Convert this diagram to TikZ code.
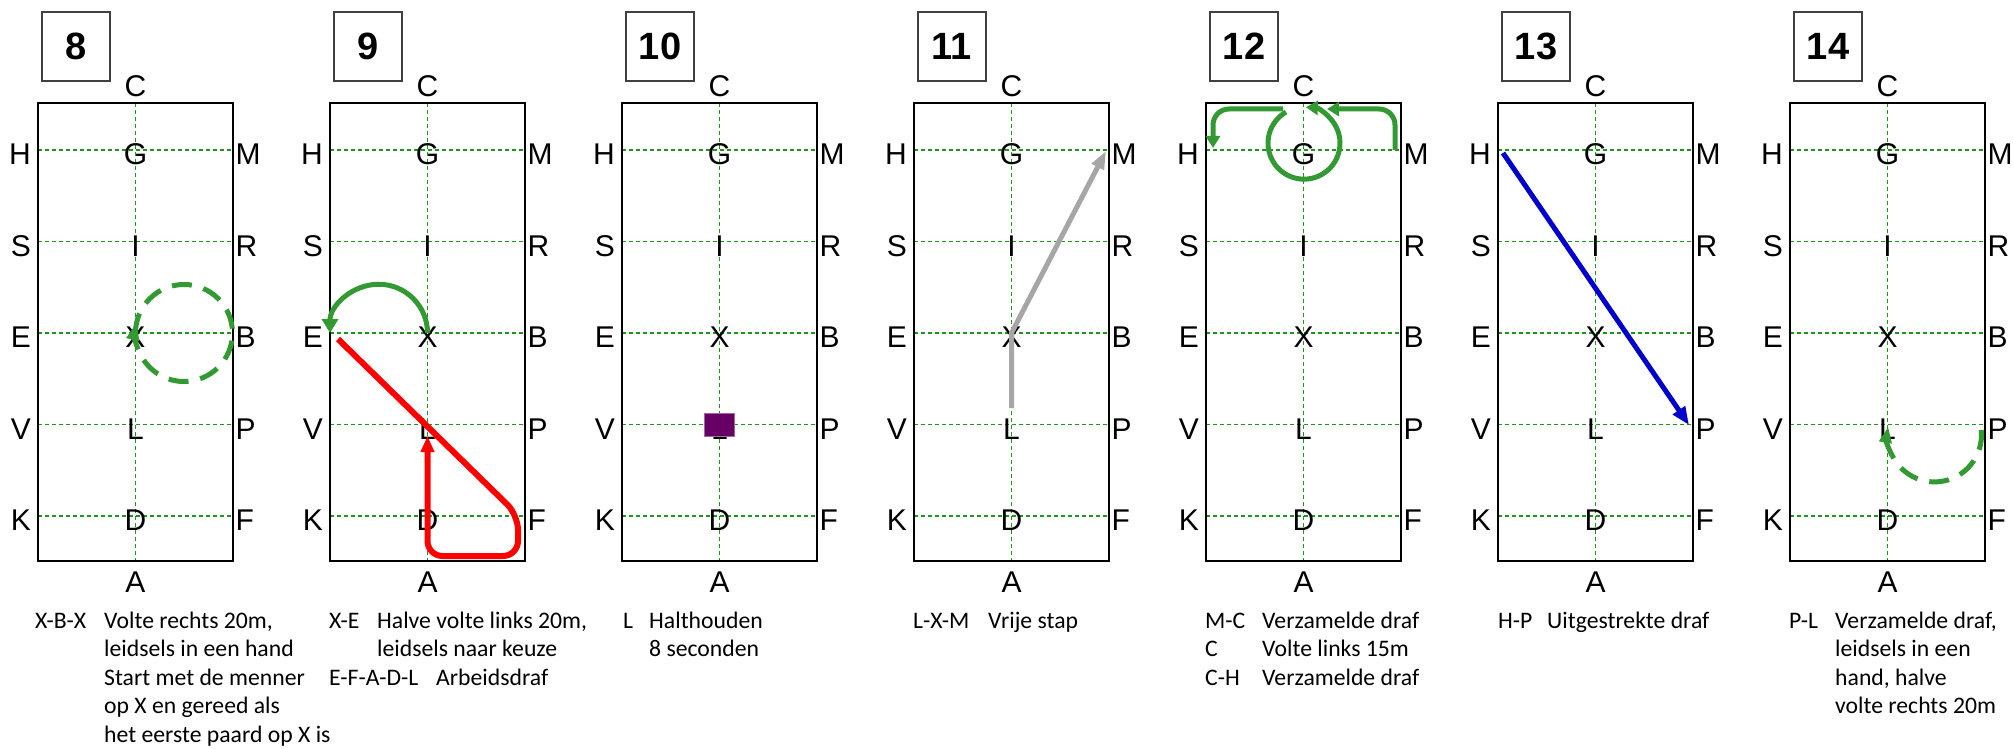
\documentclass[tikz,border=0pt]{standalone}
\usepackage{fontspec}
\setmainfont{Liberation Sans}
\newfontfamily\notefont{Carlito}
\usepackage[svgnames]{xcolor}
\usepackage{tikz}
\usetikzlibrary{arrows.meta}
\definecolor{gridgreen}{RGB}{30,150,30}
\definecolor{trackgreen}{RGB}{51,153,51}
\definecolor{haltpurple}{RGB}{102,0,102}
\definecolor{walkgrey}{RGB}{166,166,166}
\definecolor{extblue}{RGB}{0,0,204}
\tikzstyle{none}=[inner sep=0pt]
\tikzstyle{letter}=[inner sep=0pt,font=\fontsize{30}{30}\selectfont,text height=22pt,text depth=0pt]
\tikzstyle{number}=[draw=black!75,line width=1.5pt,minimum width=68pt,minimum height=69pt,inner sep=0pt,font=\fontsize{38}{38}\selectfont\bfseries]
\tikzstyle{arena}=[-,draw=Black,line width=2.6pt]
\tikzstyle{grid}=[-,draw=gridgreen,line width=1.2pt,dash pattern=on 4pt off 3pt]
\tikzstyle{note}=[inner sep=0pt,anchor=base west,font=\notefont\fontsize{23.7}{28.5}\selectfont]
\tikzstyle{volte}=[-,draw=trackgreen,line width=5pt]
\tikzstyle{voltedash}=[volte,dash pattern=on 20pt off 12pt]
\tikzstyle{trot}=[-,draw=Red,line width=6pt]
\tikzstyle{walk}=[-,draw=walkgrey,line width=5pt,line join=round]
\tikzstyle{extended}=[-,draw=extblue,line width=5pt]
\tikzstyle{halt}=[draw=haltpurple!60!white,fill=haltpurple,minimum width=30pt,minimum height=23pt,inner sep=0pt,line width=0.8pt]

\begin{document}
\begin{tikzpicture}[x=1pt,y=-1pt]
  \useasboundingbox (0,0) rectangle (2013,749);
  % arenas
  \foreach \n/\x in {8/38,9/330,10/622,11/914,12/1206,13/1498,14/1790} {
    \coordinate (pC\n) at (\x+97.5,103);
    \coordinate (pA\n) at (\x+97.5,561);
    \draw [style=grid] (pC\n) to (pA\n);
    \foreach \wl/\cl/\el/\yy in {H/G/M/150,S/I/R/241.5,E/X/B/333,V/L/P/424.5,K/D/F/516} {
      \coordinate (p\wl\n) at (\x,\yy);
      \coordinate (p\cl\n) at (\x+97.5,\yy);
      \coordinate (p\el\n) at (\x+195,\yy);
      \draw [style=grid] (p\wl\n) to (p\el\n);
      \node [style=letter,anchor=east] (\wl\n) at (\x-7,\yy+3.5) {\wl};
      \node [style=letter] (\cl\n) at (\x+97.5,\yy+3.5) {\cl};
      \node [style=letter,anchor=west] (\el\n) at (\x+197.5,\yy+3.5) {\el};
    }
    \draw [style=arena] (\x,103) rectangle (\x+195,561);
    \node [style=number] (N\n) at (\x+38,46.5) {\n};
    \node [style=letter,anchor=south] (C\n) at (\x+97.5,97) {C};
    \node [style=letter,anchor=north] (A\n) at (\x+97.5,570) {A};
  }

  % 8
  \draw [style=voltedash,-{Triangle[length=18pt,width=12pt]}] (pX8) arc [start angle=180,end angle=-193,radius=48.5pt];

  % 9
  \draw [style=volte,-{Triangle[length=14pt,width=16pt]}] (pX9) arc [start angle=0,end angle=180,radius=48.75pt];
  \node [style=none] (9a) at (338,339) {};
  \node [style=none] (9b) at (518,515) {};
  \node [style=none] (9c) at (518,556) {};
  \node [style=none] (9d) at (427.5,556) {};
  \node [style=none] (9e) at (427.5,436) {};
  \draw [style=trot,rounded corners=15pt,-{Triangle[length=16pt,width=13pt]}] (9a.center) -- (9b.center) -- (9c.center) -- (9d.center) -- (9e.center);

  % 10
  \node [style=halt] (10a) at (pL10) {};

  % 11
  \node [style=none] (11a) at (1011.5,408) {};
  \node [style=none] (11b) at (1106,151) {};
  \draw [style=walk,-{Triangle[length=18pt,width=13pt]}] (11a.center) -- (pX11) -- (11b.center);

  % 12
  \node [style=none] (12a) at (1395,150) {};
  \node [style=none] (12b) at (1395,109) {};
  \node [style=none] (12c) at (1327,109) {};
  \node [style=none] (12d) at (1283,109) {};
  \node [style=none] (12e) at (1213,109) {};
  \node [style=none] (12f) at (1213,148) {};
  \node [style=none] (12g) at (1286,112) {};
  \draw [style=volte,rounded corners=16pt,-{Triangle[length=12pt,width=14pt]}] (12a.center) -- (12b.center) -- (12c.center);
  \draw [style=volte,-{Triangle[length=12pt,width=14pt]}] (12g.center) arc [start angle=120,end angle=447,radius=36pt];
  \draw [style=volte,rounded corners=16pt,-{Triangle[length=12pt,width=14pt]}] (12d.center) -- (12e.center) -- (12f.center);

  % 13
  \node [style=none] (13a) at (1503,153) {};
  \node [style=none] (13b) at (1689,425) {};
  \draw [style=extended,-{Triangle[length=18pt,width=14pt]}] (13a.center) -- (13b.center);

  % 14
  \node [style=none] (14a) at (1981.2,430) {};
  \draw [style=voltedash,-{Triangle[length=16pt,width=12pt]}] (14a.center) arc [start angle=6,end angle=-190,radius=47pt];

  % notes
  \node [style=note] (8n1) at (35,628) {X-B-X};
  \node [style=note] (8n2) at (104,628) {Volte rechts 20m,};
  \node [style=note] (8n3) at (104,656.5) {leidsels in een hand};
  \node [style=note] (8n4) at (104,685) {Start met de menner};
  \node [style=note] (8n5) at (104,713.5) {op X en gereed als};
  \node [style=note] (8n6) at (104,742) {het eerste paard op X is};
  \node [style=note] (9n1) at (329,628) {X-E};
  \node [style=note] (9n2) at (377,628) {Halve volte links 20m,};
  \node [style=note] (9n3) at (377,656.5) {leidsels naar keuze};
  \node [style=note] (9n4) at (329,685) {E-F-A-D-L};
  \node [style=note] (9n5) at (436,685) {Arbeidsdraf};
  \node [style=note] (10n1) at (623,628) {L};
  \node [style=note] (10n2) at (649,628) {Halthouden};
  \node [style=note] (10n3) at (649,656.5) {8 seconden};
  \node [style=note] (11n1) at (913,628) {L-X-M};
  \node [style=note] (11n2) at (988,628) {Vrije stap};
  \node [style=note] (12n1) at (1205,628) {M-C};
  \node [style=note] (12n2) at (1262,628) {Verzamelde draf};
  \node [style=note] (12n3) at (1205,656.5) {C};
  \node [style=note] (12n4) at (1262,656.5) {Volte links 15m};
  \node [style=note] (12n5) at (1205,685) {C-H};
  \node [style=note] (12n6) at (1262,685) {Verzamelde draf};
  \node [style=note] (13n1) at (1498,628) {H-P};
  \node [style=note] (13n2) at (1547,628) {Uitgestrekte draf};
  \node [style=note] (14n1) at (1789,628) {P-L};
  \node [style=note] (14n2) at (1835,628) {Verzamelde draf,};
  \node [style=note] (14n3) at (1835,656.5) {leidsels in een};
  \node [style=note] (14n4) at (1835,685) {hand, halve};
  \node [style=note] (14n5) at (1835,713.5) {volte rechts 20m};
\end{tikzpicture}
\end{document}
